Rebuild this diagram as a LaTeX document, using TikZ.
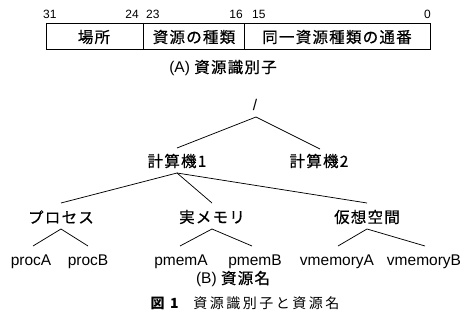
\documentclass[tikz,border=0pt]{standalone}
\usepackage{fontspec}
\setmainfont{Liberation Sans}
\newfontfamily\cjk[LetterSpace=8,FakeBold=0.6]{Noto Sans CJK JP}
\newfontfamily\cjkcap[LetterSpace=18]{Noto Sans CJK JP}
\usetikzlibrary{calc}
\begin{document}
\begin{tikzpicture}[x=1pt,y=-1pt,
  lbl/.style={inner sep=0pt,font=\fontsize{15.5}{17}\selectfont},
  jl/.style={inner sep=0pt,font=\fontsize{15.5}{17}\cjk},
  bit/.style={inner sep=0pt,font=\fontsize{12}{13}\selectfont},
  edge/.style={line width=0.75pt}]
\useasboundingbox (0,0) rectangle (466,334);
% (A) bit field
\node[bit,anchor=west] (b31) at (43,14) {31};
\node[bit,anchor=east] (b24) at (139,14) {24};
\node[bit,anchor=west] (b23) at (146,14) {23};
\node[bit,anchor=east] (b16) at (243,14) {16};
\node[bit,anchor=west] (b15) at (252,14) {15};
\node[bit,anchor=east] (b0) at (431,14) {0};
\draw[line width=0.9pt] (46,23) rectangle (430,49);
\draw[line width=0.9pt] (143,23) -- (143,49) (244,23) -- (244,49);
\node[jl] (f1) at (94,37) {場所};
\node[jl] (f2) at (194,37) {資源の種類};
\node[jl] (f3) at (337,37) {同一資源種類の通番};
\node[lbl] (capA) at (223,68) {(A) {\fontsize{15.5}{17}\cjk 資源識別子}};
% (B) tree
\node[lbl] (root) at (255,105) {/};
\node[jl] (k1) at (177,161) {計算機1};
\node[jl] (k2) at (319,161) {計算機2};
\node[jl] (pr) at (61,217) {プロセス};
\node[jl] (rm) at (212,217) {実メモリ};
\node[jl] (vm) at (367,217) {仮想空間};
\node[lbl] (pa) at (31,262) {procA};
\node[lbl] (pb) at (88,262) {procB};
\node[lbl] (ma) at (181,262) {pmemA};
\node[lbl] (mb) at (255,262) {pmemB};
\node[lbl] (va) at (337,262) {vmemoryA};
\node[lbl] (vb) at (424,262) {vmemoryB};
\draw[edge] ($(k1)+(0,-13)$) -- ($(root)+(1,12)$) -- ($(k2)+(1,-12)$);
\draw[edge] ($(pr)+(0,-14)$) -- ($(k1)+(0,12)$) -- ($(rm)+(0,-14)$);
\draw[edge] ($(k1)+(0,12)$) -- ($(vm)+(0,-14)$);
\draw[edge] ($(pa)+(2,-16)$) -- ($(pr)+(0,12)$) -- ($(pb)+(0,-16)$);
\draw[edge] ($(ma)+(-1,-16)$) -- ($(rm)+(0,12)$) -- ($(mb)+(-3,-16)$);
\draw[edge] ($(va)+(1,-16)$) -- ($(vm)+(0,12)$) -- ($(vb)+(1,-16)$);
\node[lbl] (capB) at (233,279) {(B) {\fontsize{15.5}{17}\cjk 資源名}};
\node[inner sep=0pt,font=\fontsize{14}{15}\cjkcap] (fig) at (245,303) {\textbf{図 1}\hspace{12pt}資源識別子と資源名};
\end{tikzpicture}
\end{document}
